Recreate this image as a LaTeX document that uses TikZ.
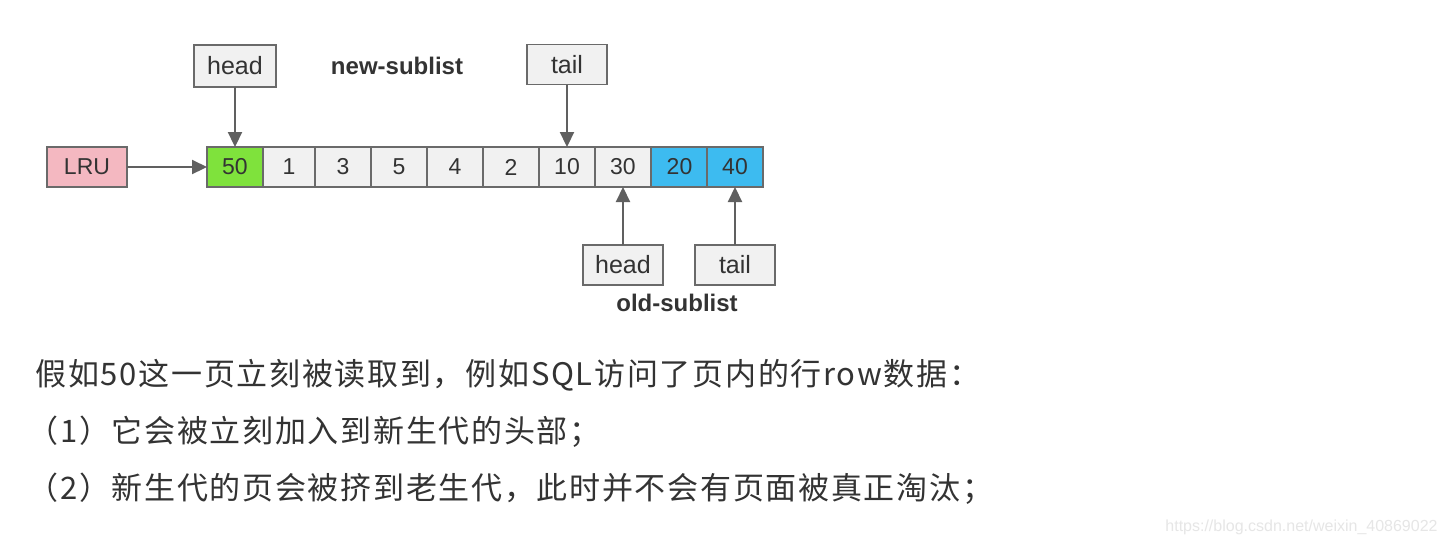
\documentclass[tikz,border=0pt]{standalone}
\usepackage{fontspec}
\setmainfont{Liberation Sans}
\newfontfamily\cjk[LetterSpace=5.5]{Noto Sans CJK SC}
\usetikzlibrary{arrows.meta}
\definecolor{txt}{HTML}{333333}
\definecolor{edge}{HTML}{6A6A6A}
\definecolor{arr}{HTML}{606060}
\definecolor{cellbg}{HTML}{F1F1F1}
\definecolor{lrubg}{HTML}{F4B8C1}
\definecolor{greenbg}{HTML}{7FE23C}
\definecolor{bluebg}{HTML}{3DBBF0}
\definecolor{wm}{HTML}{E6E6E6}
\begin{document}
\begin{tikzpicture}[x=0.5pt,y=-0.5pt,
  cell/.style={draw=edge, line width=0.8pt, fill=cellbg, minimum height=20pt, inner sep=0pt, outer sep=0pt, text=txt, font=\fontsize{11.5}{12}\selectfont},
  label/.style={draw=edge, line width=0.8pt, fill=cellbg, minimum width=40pt, minimum height=20pt, inner sep=0pt, outer sep=0pt, text=txt, font=\fontsize{12.5}{13}\selectfont},
  ptr/.style={draw=arr, line width=1.1pt, -{Triangle[length=7.5pt,width=7pt]}},
  title/.style={text=txt, font=\bfseries\fontsize{12}{13}\selectfont, inner sep=0pt},
  para/.style={anchor=west, inner sep=0pt, text=txt, font=\cjk\fontsize{15.5}{16}\selectfont}
]
\useasboundingbox (0,0) rectangle (1448,548);
\fill[white] (0,0) rectangle (1448,548);

% LRU
\node[cell, fill=lrubg, minimum width=40pt] (lru) at (87,167) {LRU};

% list cells
\node[cell, fill=greenbg, minimum width=28pt] (c50) at (235,167) {50};
\node[cell, minimum width=26pt] (c1) at (289,167) {1};
\node[cell, minimum width=28pt] (c3) at (343,167) {3};
\node[cell, minimum width=28pt] (c5) at (399,167) {5};
\node[cell, minimum width=28pt] (c4) at (455,167) {4};
\node[cell, minimum width=28pt] (c2) at (511,167) {2};
\node[cell, minimum width=28pt] (c10) at (567,167) {10};
\node[cell, minimum width=28pt] (c30) at (623,167) {30};
\node[cell, fill=bluebg, minimum width=28.5pt] (c20) at (679.5,167) {20};
\node[cell, fill=bluebg, minimum width=28pt] (c40) at (735,167) {40};

% pointer labels
\node[label, minimum width=41pt, minimum height=21pt] (nhead) at (235,66) {head};
\node[label] (ntail) at (567,64.5) {tail};
\node[label] (ohead) at (623,265) {head};
\node[label] (otail) at (735,265) {tail};

\node[title] (newsub) at (397,66) {new-sublist};
\node[title] (oldsub) at (677,303) {old-sublist};

% connectors
\draw[ptr] (lru) -- (c50);
\draw[ptr] (nhead) -- (c50);
\draw[ptr] (ntail) -- (c10);
\draw[ptr] (ohead) -- (c30);
\draw[ptr] (otail) -- (c40);

% text
\node[para] (p1) at (35,375) {假如50这一页立刻被读取到，例如SQL访问了页内的行row数据：};
\node[para] (p2) at (27,432) {（1）它会被立刻加入到新生代的头部；};
\node[para] (p3) at (27,489) {（2）新生代的页会被挤到老生代，此时并不会有页面被真正淘汰；};

\node[anchor=east, inner sep=0pt, text=wm, font=\fontsize{8}{9}\selectfont] (wmk) at (1438,527) {https://blog.csdn.net/weixin\_40869022};
\end{tikzpicture}
\end{document}
